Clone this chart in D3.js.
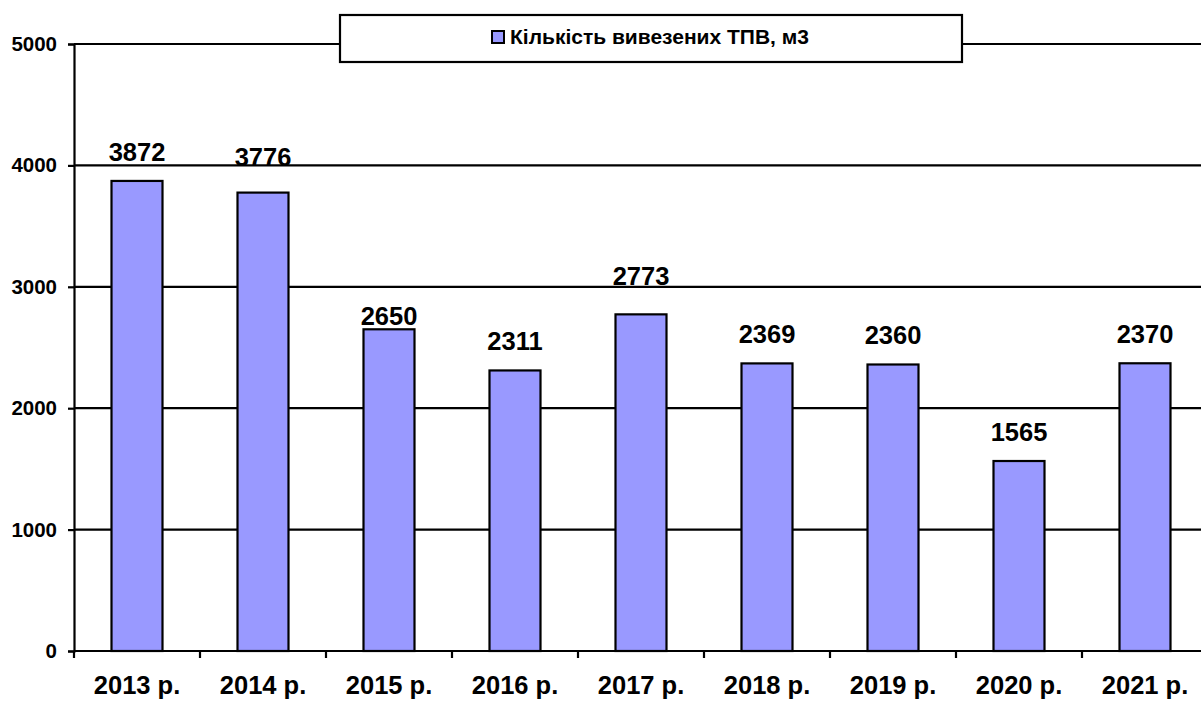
<!DOCTYPE html>
<html>
<head>
<meta charset="utf-8">
<script src="https://cdn.jsdelivr.net/npm/d3@7"></script>
<style>
  body { margin: 0; background: #fff; }
  text { font-family: "Liberation Sans", Arial, sans-serif; font-weight: bold; fill: #000; }
</style>
</head>
<body>
<div id="chart"></div>
<script>
// data
var years = ["2013 р.", "2014 р.", "2015 р.", "2016 р.", "2017 р.", "2018 р.", "2019 р.", "2020 р.", "2021 р."];
var volumes = [3872, 3776, 2650, 2311, 2773, 2369, 2360, 1565, 2370];
var yTicks = [0, 1000, 2000, 3000, 4000, 5000];
var seriesName = "Кількість вивезених ТПВ, м3";

var W = 1201, H = 704;
var svg = d3.select("#chart").append("svg").attr("width", W).attr("height", H);

var x = d3.scaleBand().domain(years).range([74, 1208]).paddingInner(0).paddingOuter(0);
var y = d3.scaleLinear().domain([0, 5000]).range([651, 44]);
var barW = 51;

// gridlines
svg.append("g").selectAll("line").data(yTicks.slice(1)).enter().append("line")
    .attr("x1", 74).attr("x2", W)
    .attr("y1", function (d) { return y(d); }).attr("y2", function (d) { return y(d); })
    .attr("stroke", "#000").attr("stroke-width", 2.2);

// y axis
var yAxis = svg.append("g").attr("transform", "translate(74,0)")
    .call(d3.axisLeft(y).tickValues(yTicks).tickSize(6).tickPadding(11).tickFormat(d3.format("d")));
yAxis.select(".domain").attr("stroke", "#000").attr("stroke-width", 2.2);
yAxis.selectAll(".tick line").attr("stroke-width", 2.2);
yAxis.selectAll("text").style("font-size", "20.5px").style("font-family", "Liberation Sans, Arial, sans-serif").style("font-weight", "bold");

// bars
svg.append("g").selectAll("rect").data(volumes).enter().append("rect")
    .attr("x", function (d, i) { return x(years[i]) + x.bandwidth() / 2 - barW / 2; })
    .attr("y", function (d) { return y(d); })
    .attr("width", barW)
    .attr("height", function (d) { return y(0) - y(d); })
    .attr("fill", "#9999ff").attr("stroke", "#000").attr("stroke-width", 2.2);

// x axis
var xAxis = svg.append("g").attr("transform", "translate(0,651)")
    .call(d3.axisBottom(x).tickSize(0).tickPadding(0));
xAxis.select(".domain").remove();
svg.append("line").attr("x1", 74).attr("x2", W).attr("y1", 651).attr("y2", 651)
    .attr("stroke", "#000").attr("stroke-width", 2.2);
svg.append("g").selectAll("line").data(d3.range(years.length + 1)).enter().append("line")
    .attr("x1", function (i) { return 74 + i * x.step(); })
    .attr("x2", function (i) { return 74 + i * x.step(); })
    .attr("y1", 651).attr("y2", 658)
    .attr("stroke", "#000").attr("stroke-width", 2.2);
xAxis.selectAll("text").attr("y", 43).attr("dy", null)
    .style("font-size", "25.5px").style("font-family", "Liberation Sans, Arial, sans-serif").style("font-weight", "bold");

// value labels (some were dragged in the original)
var labelLift = { "2014 р.": 27, "2015 р.": 4, "2017 р.": 29 };
svg.append("g").selectAll("text").data(volumes).enter().append("text")
    .attr("x", function (d, i) { return x(years[i]) + x.bandwidth() / 2; })
    .attr("y", function (d, i) { return y(d) - (labelLift[years[i]] != null ? labelLift[years[i]] : 20); })
    .attr("text-anchor", "middle")
    .style("font-size", "25.5px")
    .text(function (d) { return d; });

// legend
var lg = svg.append("g");
lg.append("rect").attr("x", 340).attr("y", 15).attr("width", 622).attr("height", 47)
    .attr("fill", "#fff").attr("stroke", "#000").attr("stroke-width", 2.2);
lg.append("rect").attr("x", 492).attr("y", 31).attr("width", 12).attr("height", 12)
    .attr("fill", "#9999ff").attr("stroke", "#000").attr("stroke-width", 2);
lg.append("text").attr("x", 510).attr("y", 44).style("font-size", "21px").text(seriesName);
</script>
</body>
</html>
